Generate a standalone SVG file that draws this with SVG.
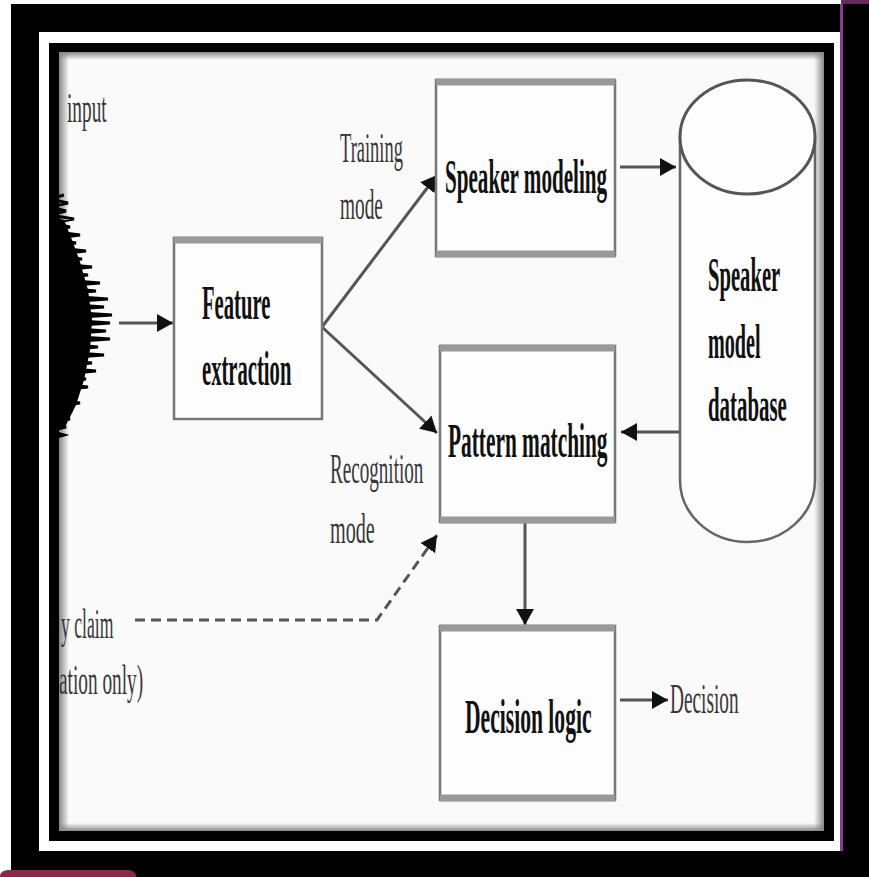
<svg xmlns="http://www.w3.org/2000/svg" width="869" height="877" viewBox="0 0 869 877">
<style>
.lbl{font-family:"Liberation Serif","Times New Roman",serif;fill:#222;}
.b{font-weight:bold;fill:#111;font-size:48px;}
.r{font-size:42px;fill:#383838;}
.box{fill:#fdfdfd;stroke:#777;stroke-width:2.5;}
.bar{stroke:#999;stroke-width:7;}
.con{stroke:#555;stroke-width:3;fill:none;}
</style>
<defs>
<marker id="ah" markerUnits="userSpaceOnUse" markerWidth="18" markerHeight="20" refX="16" refY="10" orient="auto">
<path d="M0,1 L16,10 L0,19 Z" fill="#111"/>
</marker>
<clipPath id="cc"><rect x="59" y="52" width="765" height="779"/></clipPath>
<linearGradient id="gl" x1="0" y1="0" x2="1" y2="0"><stop offset="0" stop-color="#888"/><stop offset="1" stop-color="#888" stop-opacity="0"/></linearGradient>
<linearGradient id="gr" x1="1" y1="0" x2="0" y2="0"><stop offset="0" stop-color="#888"/><stop offset="1" stop-color="#888" stop-opacity="0"/></linearGradient>
<linearGradient id="gt" x1="0" y1="0" x2="0" y2="1"><stop offset="0" stop-color="#888"/><stop offset="1" stop-color="#888" stop-opacity="0"/></linearGradient>
<linearGradient id="gb" x1="0" y1="1" x2="0" y2="0"><stop offset="0" stop-color="#888"/><stop offset="1" stop-color="#888" stop-opacity="0"/></linearGradient>
</defs>
<!-- frame -->
<rect x="0" y="0" width="869" height="877" fill="#fff"/>
<rect x="11" y="4" width="858" height="873" fill="#000"/>
<rect x="841" y="0" width="28" height="4" fill="#6a2a5e"/>
<rect x="840" y="4" width="3" height="847" fill="#8a3a8a"/>
<rect x="39" y="32" width="801" height="819" fill="#fff"/>
<rect x="49" y="43" width="785" height="798" fill="#000"/>
<rect x="0" y="870" width="136" height="12" rx="8" fill="#8a2a4a"/>
<rect x="59" y="52" width="765" height="779" fill="#fafafa"/>
<rect x="59" y="52" width="10" height="779" fill="url(#gl)"/>
<rect x="814" y="52" width="10" height="779" fill="url(#gr)"/>
<rect x="59" y="52" width="765" height="8" fill="url(#gt)"/>
<rect x="59" y="823" width="765" height="8" fill="url(#gb)"/>
<g clip-path="url(#cc)">
<g id="waveform">
<polygon fill="#000" points="50,215 64,220 72,240 80,262 88,290 92,320 90,350 84,380 76,405 66,425 50,430"/>
<polyline fill="none" stroke="#000" stroke-width="3" stroke-linejoin="miter" points="64,195 50,199 68,203 50,207 66,211 50,215 74,219 50,223 70,227 50,231 80,235 50,239 76,243 50,247 86,251 50,255 82,259 50,263 92,267 50,271 88,275 50,279 100,283 50,287 96,291 50,295 108,299 50,303 104,307 50,311 112,315 50,319 110,323 50,327 106,331 50,335 110,339 50,343 98,347 50,351 104,355 50,359 92,363 50,367 96,371 50,375 86,379 50,383 88,387 50,391 78,395 50,399 80,403 50,407 72,411 50,415 70,419 50,423 66,427 50,431 64,435 50,439"/>
</g>
<g id="speech-input"><text class="lbl r" transform="translate(67,122) scale(0.46,1)" font-size="38">input</text></g>
<g id="identity-claim">
<text class="lbl r" transform="translate(61,638) scale(0.42,1)">y claim</text>
<text class="lbl r" transform="translate(59,694) scale(0.46,1)">ation only)</text>
</g>
</g>
<g id="connectors">
<line class="con" x1="119" y1="323" x2="173" y2="323" marker-end="url(#ah)"/>
<line class="con" x1="322" y1="327" x2="437" y2="175" marker-end="url(#ah)"/>
<line class="con" x1="322" y1="327" x2="437" y2="433" marker-end="url(#ah)"/>
<line class="con" x1="620" y1="167" x2="676" y2="167" marker-end="url(#ah)"/>
<line class="con" x1="680" y1="432" x2="621" y2="432" marker-end="url(#ah)"/>
<line class="con" x1="525" y1="522" x2="525" y2="625" marker-end="url(#ah)"/>
<line class="con" x1="620" y1="700" x2="668" y2="700" marker-end="url(#ah)"/>
<polyline class="con" points="135,620 377,620 437,535" stroke-dasharray="10,6" marker-end="url(#ah)"/>
</g>
<g id="training-mode">
<text class="lbl r" transform="translate(340,162) scale(0.44,1)">Training</text>
<text class="lbl r" transform="translate(340,219) scale(0.46,1)">mode</text>
</g>
<g id="recognition-mode">
<text class="lbl r" transform="translate(330,483) scale(0.455,1)">Recognition</text>
<text class="lbl r" transform="translate(330,543) scale(0.48,1)">mode</text>
</g>
<g id="feature-extraction">
<rect class="box" x="174" y="238" width="148" height="181"/>
<line class="bar" x1="174" y1="240" x2="322" y2="240"/>
<text class="lbl b" transform="translate(202,319) scale(0.43,1)">Feature</text>
<text class="lbl b" transform="translate(202,385) scale(0.43,1)">extraction</text>
</g>
<g id="speaker-modeling">
<rect class="box" x="436" y="80" width="179" height="176"/>
<line class="bar" x1="436" y1="82" x2="615" y2="82"/>
<line class="bar" x1="436" y1="254" x2="615" y2="254"/>
<text class="lbl b" transform="translate(445,193) scale(0.44,1)">Speaker modeling</text>
</g>
<g id="pattern-matching">
<rect class="box" x="440" y="346" width="175" height="176"/>
<line class="bar" x1="440" y1="348" x2="615" y2="348"/>
<line class="bar" x1="440" y1="520" x2="615" y2="520"/>
<text class="lbl b" transform="translate(448,457) scale(0.445,1)">Pattern matching</text>
</g>
<g id="decision-logic">
<rect class="box" x="440" y="626" width="175" height="174"/>
<line class="bar" x1="440" y1="628" x2="615" y2="628"/>
<line class="bar" x1="440" y1="798" x2="615" y2="798"/>
<text class="lbl b" transform="translate(465,733) scale(0.45,1)">Decision logic</text>
</g>
<g id="speaker-model-database">
<path d="M680,137 L680,480 A67.5,62 0 0 0 815,480 L815,137" fill="#fdfdfd" stroke="#666" stroke-width="2.5"/>
<ellipse cx="747.5" cy="137" rx="67.5" ry="57" fill="#fdfdfd" stroke="#555" stroke-width="3"/>
<text class="lbl b" transform="translate(708,291) scale(0.43,1)">Speaker</text>
<text class="lbl b" transform="translate(708,358) scale(0.42,1)">model</text>
<text class="lbl b" transform="translate(708,421) scale(0.435,1)">database</text>
</g>
<g id="decision-output">
<text class="lbl r" transform="translate(670,713) scale(0.46,1)">Decision</text>
</g>
</svg>
